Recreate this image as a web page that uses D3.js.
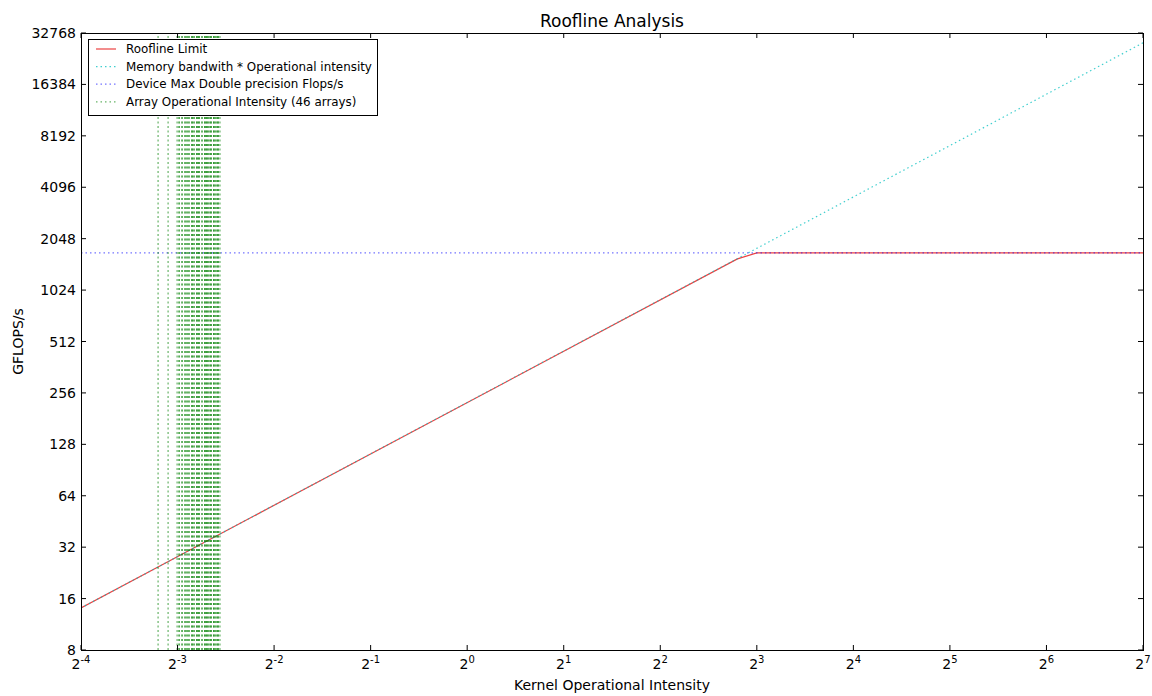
<!DOCTYPE html>
<head>
<meta charset="utf-8">
<style>
  body { margin:0; background:#fff; }
  text { font-family: "DejaVu Sans", sans-serif; fill:#000; }
  .frame { fill:none; stroke:#000; stroke-width:1; }
  .tick line { stroke:#000; }
</style>
</head>
<body>
<script src="https://cdn.jsdelivr.net/npm/d3@7"></script>
<script>

var width = 1152,
    height = 696;

var margin = {left:81, right:9, top:33, bottom:46};

// data
var xExponents = [-4, -3, -2, -1, 0, 1, 2, 3, 4, 5, 6, 7];
var yTickValues = [8, 16, 32, 64, 128, 256, 512, 1024, 2048, 4096, 8192, 16384, 32768];
var peakFlops = 1690;
var bandwidthLine = [[0.0625, 14.1], [128, 28700]];
var rooflinePts = [[0.0625, 14.1], [6.96, 1560], [8, 1690], [128, 1690]];
var arrayIntensity = [
  0.1087, 0.1168, 0.1246, 0.1264, 0.1264, 0.1291, 0.1291, 0.1319, 0.1319,
  0.1338, 0.1338, 0.1357, 0.1357, 0.1387, 0.1387, 0.1387, 0.1407, 0.1407,
  0.1437, 0.1437, 0.1437, 0.1458, 0.1458, 0.1458, 0.1490, 0.1490,
  0.1522, 0.1522, 0.1522, 0.1544, 0.1544, 0.1544, 0.1566, 0.1566,
  0.1589, 0.1589, 0.1589, 0.1623, 0.1623, 0.1623, 0.1647, 0.1647,
  0.1671, 0.1671, 0.1671, 0.1695
];
var legendLabels = ["Roofline Limit", "Memory bandwith * Operational intensity",
  "Device Max Double precision Flops/s", "Array Operational Intensity (46 arrays)"];

var x = d3.scaleLog().base(2)
    .domain([Math.pow(2, -4), Math.pow(2, 7)])
    .range([margin.left, width - margin.right]);

var y = d3.scaleLog().base(2)
    .domain([8, 32768])
    .range([height - margin.bottom, margin.top]);

var svg = d3.select("body").append("svg")
    .attr("width", width)
    .attr("height", height);

svg.append("defs").append("clipPath").attr("id", "plotclip")
  .append("rect")
    .attr("x", margin.left).attr("y", margin.top)
    .attr("width", width - margin.left - margin.right)
    .attr("height", height - margin.top - margin.bottom);

var line = d3.line()
    .x(function(d) { return x(d[0]); })
    .y(function(d) { return y(d[1]); });

var plot = svg.append("g").attr("clip-path", "url(#plotclip)");

// roofline
plot.append("path")
    .datum(rooflinePts)
    .attr("d", line)
    .style("fill", "none")
    .style("stroke", "#e60000")
    .style("stroke-opacity", 0.75)
    .style("stroke-width", 1.2);

// memory bandwidth
plot.append("path")
    .datum(bandwidthLine)
    .attr("d", line)
    .style("fill", "none")
    .style("stroke", "#00bfbf")
    .style("stroke-opacity", 0.75)
    .style("stroke-dasharray", "1.5,3")
    .style("stroke-width", 1.2);

// device peak
plot.append("line")
    .attr("x1", x.range()[0]).attr("x2", x.range()[1])
    .attr("y1", y(peakFlops)).attr("y2", y(peakFlops))
    .style("stroke", "#0000ff")
    .style("stroke-opacity", 0.55)
    .style("stroke-dasharray", "1.5,3")
    .style("stroke-width", 1.2);

// array intensities
plot.selectAll(".arr")
    .data(arrayIntensity)
  .enter().append("line")
    .attr("class", "arr")
    .attr("x1", function(d) { return x(d); })
    .attr("x2", function(d) { return x(d); })
    .attr("y1", y.range()[0]).attr("y2", y.range()[1])
    .style("stroke", "#008000")
    .style("stroke-opacity", 0.6)
    .style("stroke-dasharray", "2,2.5")
    .style("stroke-width", 1.2);

// ticks (inside, on all four sides)
var tk = svg.append("g").attr("class", "tick");
xExponents.forEach(function(e) {
  var px = x(Math.pow(2, e));
  tk.append("line").attr("x1", px).attr("x2", px)
    .attr("y1", y.range()[0]).attr("y2", y.range()[0] - 5);
  tk.append("line").attr("x1", px).attr("x2", px)
    .attr("y1", y.range()[1]).attr("y2", y.range()[1] + 5);
  var t = svg.append("text")
      .attr("x", px)
      .attr("y", y.range()[0] + 19)
      .attr("text-anchor", "middle")
      .style("font-size", "14px");
  t.append("tspan").text("2");
  t.append("tspan").text(e).attr("dy", -6).style("font-size", "10px");
});
yTickValues.forEach(function(v) {
  var py = y(v);
  tk.append("line").attr("x1", x.range()[0]).attr("x2", x.range()[0] + 5)
    .attr("y1", py).attr("y2", py);
  tk.append("line").attr("x1", x.range()[1]).attr("x2", x.range()[1] - 5)
    .attr("y1", py).attr("y2", py);
  svg.append("text")
      .attr("x", x.range()[0] - 5)
      .attr("y", py + 5)
      .attr("text-anchor", "end")
      .style("font-size", "14px")
      .text(v);
});

svg.append("rect")
    .attr("class", "frame")
    .attr("x", margin.left + 0.5).attr("y", margin.top + 0.5)
    .attr("width", width - margin.left - margin.right)
    .attr("height", height - margin.top - margin.bottom);

// titles
svg.append("text")
    .attr("x", (x.range()[0] + x.range()[1]) / 2)
    .attr("y", 27)
    .attr("text-anchor", "middle")
    .style("font-size", "17px")
    .text("Roofline Analysis");

svg.append("text")
    .attr("x", (x.range()[0] + x.range()[1]) / 2)
    .attr("y", 690)
    .attr("text-anchor", "middle")
    .style("font-size", "14px")
    .text("Kernel Operational Intensity");

svg.append("text")
    .attr("transform", "translate(23," + ((y.range()[0] + y.range()[1]) / 2) + ") rotate(-90)")
    .attr("text-anchor", "middle")
    .style("font-size", "14px")
    .text("GFLOPS/s");

// legend
var legend = svg.append("g").attr("transform", "translate(88,39)");
legend.append("rect")
    .attr("x", 0.5).attr("y", 0.5)
    .attr("width", 289).attr("height", 76)
    .style("fill", "#fff")
    .style("stroke", "#000");

var legendStyles = [
  {color:"#e60000", op:0.75, dash:null},
  {color:"#00bfbf", op:0.75, dash:"1.5,3"},
  {color:"#0000ff", op:0.55, dash:"1.5,3"},
  {color:"#008000", op:0.6, dash:"1.5,3"}
];
legendLabels.forEach(function(lbl, i) {
  var ly = 10 + i * 17.6;
  legend.append("line")
      .attr("x1", 8).attr("x2", 28)
      .attr("y1", ly).attr("y2", ly)
      .style("stroke", legendStyles[i].color)
      .style("stroke-opacity", legendStyles[i].op)
      .style("stroke-dasharray", legendStyles[i].dash)
      .style("stroke-width", 1.2);
  legend.append("text")
      .attr("x", 38).attr("y", ly + 4)
      .style("font-size", "11.9px")
      .text(lbl);
});

</script>
</body>
</html>
